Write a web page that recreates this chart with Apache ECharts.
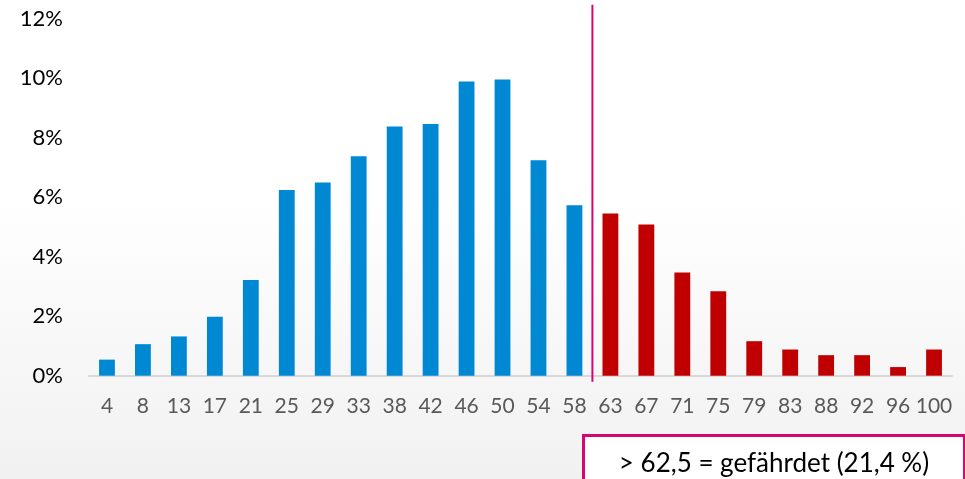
<!DOCTYPE html>
<html>
<head>
<meta charset="utf-8">
<script src="https://cdn.jsdelivr.net/npm/echarts@6/dist/echarts.min.js"></script>
<style>
  html, body { margin: 0; padding: 0; }
  #chart { width: 965px; height: 479px; }
</style>
</head>
<body>
<div id="chart"></div>
<script>
// Score bins (upper bound of each 1/24 bin, rounded)
const categories = ['4', '8', '13', '17', '21', '25', '29', '33', '38', '42', '46', '50',
                    '54', '58', '63', '67', '71', '75', '79', '83', '88', '92', '96', '100'];
// Share of respondents per bin, in percent
const shares = [0.54, 1.06, 1.32, 1.98, 3.22, 6.24, 6.49, 7.38, 8.38, 8.46, 9.89, 9.96,
                7.24, 5.73, 5.45, 5.08, 3.47, 2.84, 1.16, 0.88, 0.69, 0.69, 0.29, 0.88];
// First bin above the 62,5 threshold
const firstRiskIndex = 14;
const yTicks = [0, 2, 4, 6, 8, 10, 12];
const noteText = '> 62,5 = gefährdet (21,4 %)';

const BLUE = '#0089d2';
const RED = '#c00000';
const MAGENTA = '#d6066f';
const FONT = 'Lato, "Open Sans", sans-serif';

const chart = echarts.init(document.getElementById('chart'), null, { renderer: 'canvas' });

chart.setOption({
  backgroundColor: {
    type: 'linear', x: 0, y: 0, x2: 0, y2: 1,
    colorStops: [
      { offset: 0, color: '#ffffff' },
      { offset: 0.4, color: '#ffffff' },
      { offset: 1, color: '#f1f1f1' }
    ]
  },
  animation: false,
  grid: { left: 89, right: 13, top: 18.7, bottom: 103.3, containLabel: false },
  xAxis: {
    type: 'category',
    data: categories,
    axisTick: { show: false },
    axisLine: { lineStyle: { color: '#d9d9d9', width: 2 } },
    axisLabel: {
      interval: 0, margin: 20, color: '#595959',
      fontFamily: FONT, fontSize: 21
    }
  },
  yAxis: {
    type: 'value',
    min: yTicks[0], max: yTicks[yTicks.length - 1], interval: 2,
    splitLine: { show: false },
    axisLine: { show: false },
    axisTick: { show: false },
    axisLabel: {
      margin: 26, color: '#000000', fontFamily: FONT, fontSize: 22,
      formatter: '{value}%'
    }
  },
  series: [
    {
      type: 'bar',
      data: shares,
      barWidth: '44%',
      itemStyle: {
        color: function (p) { return p.dataIndex >= firstRiskIndex ? RED : BLUE; }
      }
    },
    {
      // Threshold marker drawn between the last safe bin and the first risk bin
      type: 'custom',
      silent: true,
      clip: false,
      data: [[firstRiskIndex - 1, firstRiskIndex]],
      renderItem: function (params, api) {
        const a = api.coord([api.value(0), 0]);
        const b = api.coord([api.value(1), 0]);
        const x = (a[0] + b[0]) / 2;
        const cs = params.coordSys;
        return {
          type: 'line',
          shape: { x1: x, y1: cs.y - 14, x2: x, y2: cs.y + cs.height + 6 },
          style: { stroke: MAGENTA, lineWidth: 2 }
        };
      }
    }
  ],
  graphic: [
    {
      type: 'group',
      left: 582, top: 434,
      children: [
        {
          type: 'rect',
          shape: { x: 0, y: 0, width: 381, height: 60 },
          style: { fill: '#ffffff', stroke: MAGENTA, lineWidth: 3 }
        },
        {
          type: 'text',
          x: 190.5, y: 28,
          style: {
            text: noteText, fill: '#000000',
            font: '26px ' + FONT,
            align: 'center', verticalAlign: 'middle'
          }
        }
      ]
    }
  ]
});
</script>
</body>
</html>
